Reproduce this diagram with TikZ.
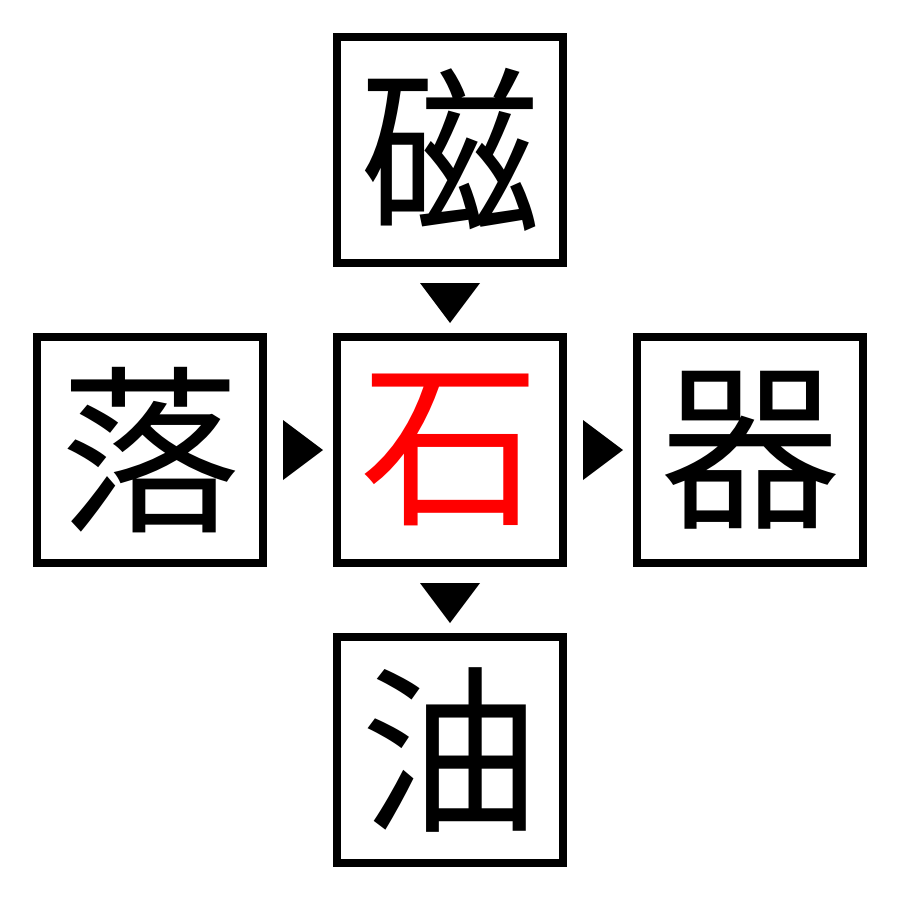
\documentclass[tikz,border=0pt]{standalone}
\usepackage{fontspec}
\newfontfamily\cjk{Noto Sans CJK JP}
\usetikzlibrary{calc}
\begin{document}
\begin{tikzpicture}[x=1pt,y=-1pt,
  cell/.style={draw=black,line width=8pt,minimum size=226pt,inner sep=0pt,font=\cjk\fontsize{180}{180}\selectfont}]
\useasboundingbox (0,0) rectangle (900,900);
\node[cell] (t) at (450,150) {磁};
\node[cell] (l) at (150,450) {落};
\node[cell,text=red] (c) at (450,450) {石};
\node[cell] (r) at (750,450) {器};
\node[cell] (b) at (450,750) {油};
\fill ($(t.south)!0.5!(c.north)$) ++(-30,-17) -- ++(60,0) -- ++(-30,40) -- cycle;
\fill ($(c.south)!0.5!(b.north)$) ++(-30,-17) -- ++(60,0) -- ++(-30,40) -- cycle;
\fill ($(l.east)!0.5!(c.west)$) ++(-17,-30) -- ++(0,60) -- ++(40,-30) -- cycle;
\fill ($(c.east)!0.5!(r.west)$) ++(-17,-30) -- ++(0,60) -- ++(40,-30) -- cycle;
\end{tikzpicture}
\end{document}
